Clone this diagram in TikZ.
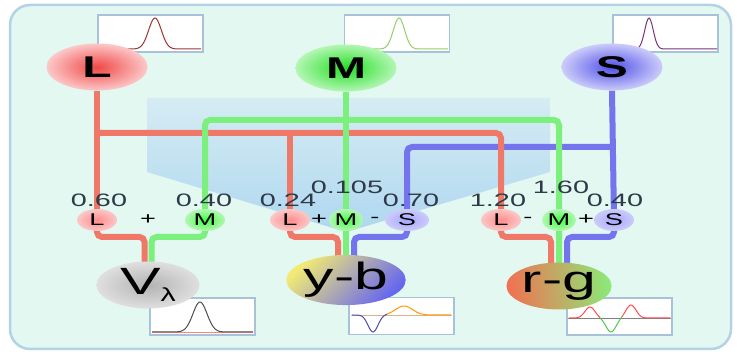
\documentclass[tikz,border=0pt]{standalone}
\usepackage{fontspec}
\newfontfamily\widefont[FakeStretch=1.6]{Liberation Sans}
\usetikzlibrary{shapes.geometric,calc,positioning}
\definecolor{panelfill}{HTML}{E2F8F1}
\definecolor{panelline}{HTML}{B4D2E6}
\definecolor{funtop}{HTML}{D4EAF4}
\definecolor{funbot}{HTML}{A6D2F0}
\definecolor{wirered}{HTML}{F07868}
\definecolor{wiregreen}{HTML}{7CF07C}
\definecolor{wireblue}{HTML}{7474EE}
\definecolor{boxline}{HTML}{A8C2DA}
\definecolor{numtext}{HTML}{2E3A48}
\definecolor{conered}{HTML}{F04848}
\definecolor{conegreen}{HTML}{22E022}
\definecolor{coneblue}{HTML}{5050E8}
\definecolor{pink}{HTML}{FCC8C8}
\definecolor{palegreen}{HTML}{B4F6B4}
\definecolor{paleblue}{HTML}{CCCCFA}
\definecolor{ybyellow}{HTML}{F2EA74}
\definecolor{ybmid}{HTML}{B4AECE}
\definecolor{ybblue}{HTML}{6666F0}
\definecolor{rgred}{HTML}{F07252}
\definecolor{rgmid}{HTML}{C8A064}
\definecolor{rggreen}{HTML}{8CE878}
\pgfdeclarelayer{back}
\pgfdeclarelayer{wires}
\pgfsetlayers{back,wires,main}

\begin{document}
\begin{tikzpicture}[x=1pt,y=-1pt,font=\widefont,
  cone/.style={ellipse,inner sep=0pt,minimum width=101pt,minimum height=47pt,
    font=\widefont\fontsize{30}{30}\selectfont\bfseries},
  mix/.style={ellipse,inner sep=0pt,minimum width=40pt,minimum height=22pt,
    font=\widefont\fontsize{17}{17}\selectfont},
  opp/.style={ellipse,inner sep=0pt,minimum width=103pt,minimum height=47pt,
    font=\widefont\fontsize{38}{38}\selectfont},
  weight/.style={text=numtext,inner sep=0pt,font=\widefont\fontsize{18}{18}\selectfont},
  sign/.style={inner sep=0pt,font=\widefont\fontsize{17}{17}\selectfont},
  plotbox/.style={draw=boxline,line width=1.5pt,fill=white,minimum width=105pt,
    minimum height=37pt,inner sep=0pt},
  curve/.style={line width=1pt},
  wire/.style={line width=6pt,rounded corners=5pt},
  rwire/.style={wire,draw=wirered},
  gwire/.style={wire,draw=wiregreen},
  bwire/.style={wire,draw=wireblue}]
\useasboundingbox (0,0) rectangle (737,352);

\begin{pgfonlayer}{back}
  \draw[fill=panelfill,draw=panelline,line width=2.5pt,rounded corners=20pt] (10,5) rectangle (731,349);
  \shade[top color=funtop,bottom color=funbot,opacity=.85]
    (147,98) -- (550,98) -- (550,172) -- (346,232) -- (147,172) -- cycle;
\end{pgfonlayer}

% spectra of the cones
\node[plotbox] (pL) at (150.5,33.5) {};
\node[plotbox] (pM) at (397,33.5) {};
\node[plotbox] (pS) at (665.5,33.5) {};
\draw[curve,draw=red!55!black!80] plot[domain=100:201,samples=80] (\x,{49-31*exp(-(((\x-155)/9)^2))});
\draw[curve,draw=green!60!yellow!70!black!60] plot[domain=346:448,samples=80] (\x,{49-31*exp(-(((\x-399)/8)^2))});
\draw[curve,draw=violet!70!black!80] plot[domain=614:717,samples=80] (\x,{49-31*exp(-(((\x-649)/6)^2))});

% spectra of the outputs
\node[plotbox] (pV) at (202.5,316.5) {};
\node[plotbox] (pyb) at (401.5,316) {};
\node[plotbox] (prg) at (619.5,316.5) {};
\draw[line width=.8pt,draw=red!50] (152,332) -- (253,332);
\draw[curve,draw=black!70] plot[domain=152:253,samples=80] (\x,{332-30*exp(-(((\x-200)/10)^2))});
\draw[line width=.8pt,draw=brown!60] (351,315) -- (452,315);
\draw[curve,draw=blue!60!black!70] plot[domain=352:387,samples=60] (\x,{315+17*exp(-(((\x-373)/7)^2))-9*exp(-(((\x-404)/12)^2))});
\draw[curve,draw=orange!80!yellow] plot[domain=387:451,samples=60] (\x,{315+17*exp(-(((\x-373)/7)^2))-9*exp(-(((\x-404)/12)^2))});
\draw[line width=.8pt,draw=gray] (568,318) -- (671,318);
\draw[curve,draw=red!70] plot[domain=569:600,samples=50] (\x,{318-11*exp(-(((\x-590)/7)^2))+14*exp(-(((\x-611)/7)^2))-13*exp(-(((\x-631)/7)^2))});
\draw[curve,draw=green!70!black!70] plot[domain=600:622,samples=40] (\x,{318-11*exp(-(((\x-590)/7)^2))+14*exp(-(((\x-611)/7)^2))-13*exp(-(((\x-631)/7)^2))});
\draw[curve,draw=red!70] plot[domain=622:670,samples=50] (\x,{318-11*exp(-(((\x-590)/7)^2))+14*exp(-(((\x-611)/7)^2))-13*exp(-(((\x-631)/7)^2))});

% cones
\node[cone,inner color=conered,outer color=pink] (L) at (97,67) {L};
\node[cone,inner color=conegreen,outer color=palegreen] (M) at (346,68) {M};
\node[cone,inner color=coneblue,outer color=paleblue] (S) at (612,67) {S};

% weighted sums
\node[mix,inner color=red!45,outer color=pink] (vL) at (97,220) {L};
\node[sign] (vplus) at (148,220) {+};
\node[mix,inner color=green!75,outer color=palegreen] (vM) at (205,220) {M};
\node[mix,inner color=red!45,outer color=pink] (ybL) at (290,220) {L};
\node[sign] (ybplus) at (319,220) {+};
\node[mix,minimum width=34pt,inner color=green!75,outer color=palegreen] (ybM) at (346,220) {M};
\node[sign] (ybminus) at (375,220) {-};
\node[mix,minimum width=44pt,inner color=blue!35,outer color=paleblue] (ybS) at (407,220) {S};
\node[mix,inner color=red!45,outer color=pink] (rgL) at (501,220) {L};
\node[sign] (rgminus) at (528,220) {-};
\node[mix,minimum width=34pt,inner color=green!75,outer color=palegreen] (rgM) at (559,220) {M};
\node[sign] (rgplus) at (586,220) {+};
\node[mix,minimum width=40pt,inner color=blue!35,outer color=paleblue] (rgS) at (614,220) {S};

\node[weight] (kVL) at (99,200) {0.60};
\node[weight] (kVM) at (204,200) {0.40};
\node[weight] (kYL) at (288,200) {0.24};
\node[weight] (kYM) at (347,187) {0.105};
\node[weight] (kYS) at (411,200) {0.70};
\node[weight] (kRL) at (498,200) {1.20};
\node[weight] (kRM) at (561,187) {1.60};
\node[weight] (kRS) at (615,200) {0.40};

% opponent channels
\node[opp,inner color=gray!60,outer color=gray!25] (V) at (148,285) {V\raisebox{-7pt}{\fontsize{19}{19}\selectfont λ}};
\node[opp,shade,left color=ybyellow,middle color=ybmid,right color=ybblue,shading angle=45] (yb) at (346,280) {y-b};
\node[opp,shade,left color=rgred,middle color=rgmid,right color=rggreen,shading angle=95] (rg) at (559,286) {r-g};

\coordinate (rbus) at (0,133);
\coordinate (gbus) at (0,120);
\coordinate (bbus) at (0,147);
\coordinate (vjoin) at (148,237);
\coordinate (yjoin) at (346,237);
\coordinate (rjoin) at (559,237);

\begin{pgfonlayer}{wires}
  \draw[bwire] (S.south) -- (rgS.center);
  \draw[bwire] (S |- bbus) -| (ybS.center);
  \draw[bwire] (ybS.south) |- ([xshift=8pt]yjoin) -- ([xshift=8pt]yb.center);
  \draw[bwire] (rgS.south) |- ([xshift=8pt]rjoin) -- ([xshift=8pt]rg.center);
  \draw[rwire] (L.south) -- (vL.center);
  \draw[rwire] (L |- rbus) -| (rgL.center);
  \draw[rwire] (ybL |- rbus) -- (ybL.center);
  \draw[rwire] (vL.south) |- ([xshift=-3.5pt]vjoin) -- ([xshift=-3.5pt]V.center);
  \draw[rwire] (ybL.south) |- ([xshift=-8pt]yjoin) -- ([xshift=-8pt]yb.center);
  \draw[rwire] (rgL.south) |- ([xshift=-8pt]rjoin) -- ([xshift=-8pt]rg.center);
  \draw[gwire] (M.south) -- (yb.center);
  \draw[gwire] (vM.center) |- (rgM |- gbus) -- (rg.center);
  \draw[gwire] (vM.south) |- ([xshift=3.5pt]vjoin) -- ([xshift=3.5pt]V.center);
\end{pgfonlayer}
\end{tikzpicture}
\end{document}
